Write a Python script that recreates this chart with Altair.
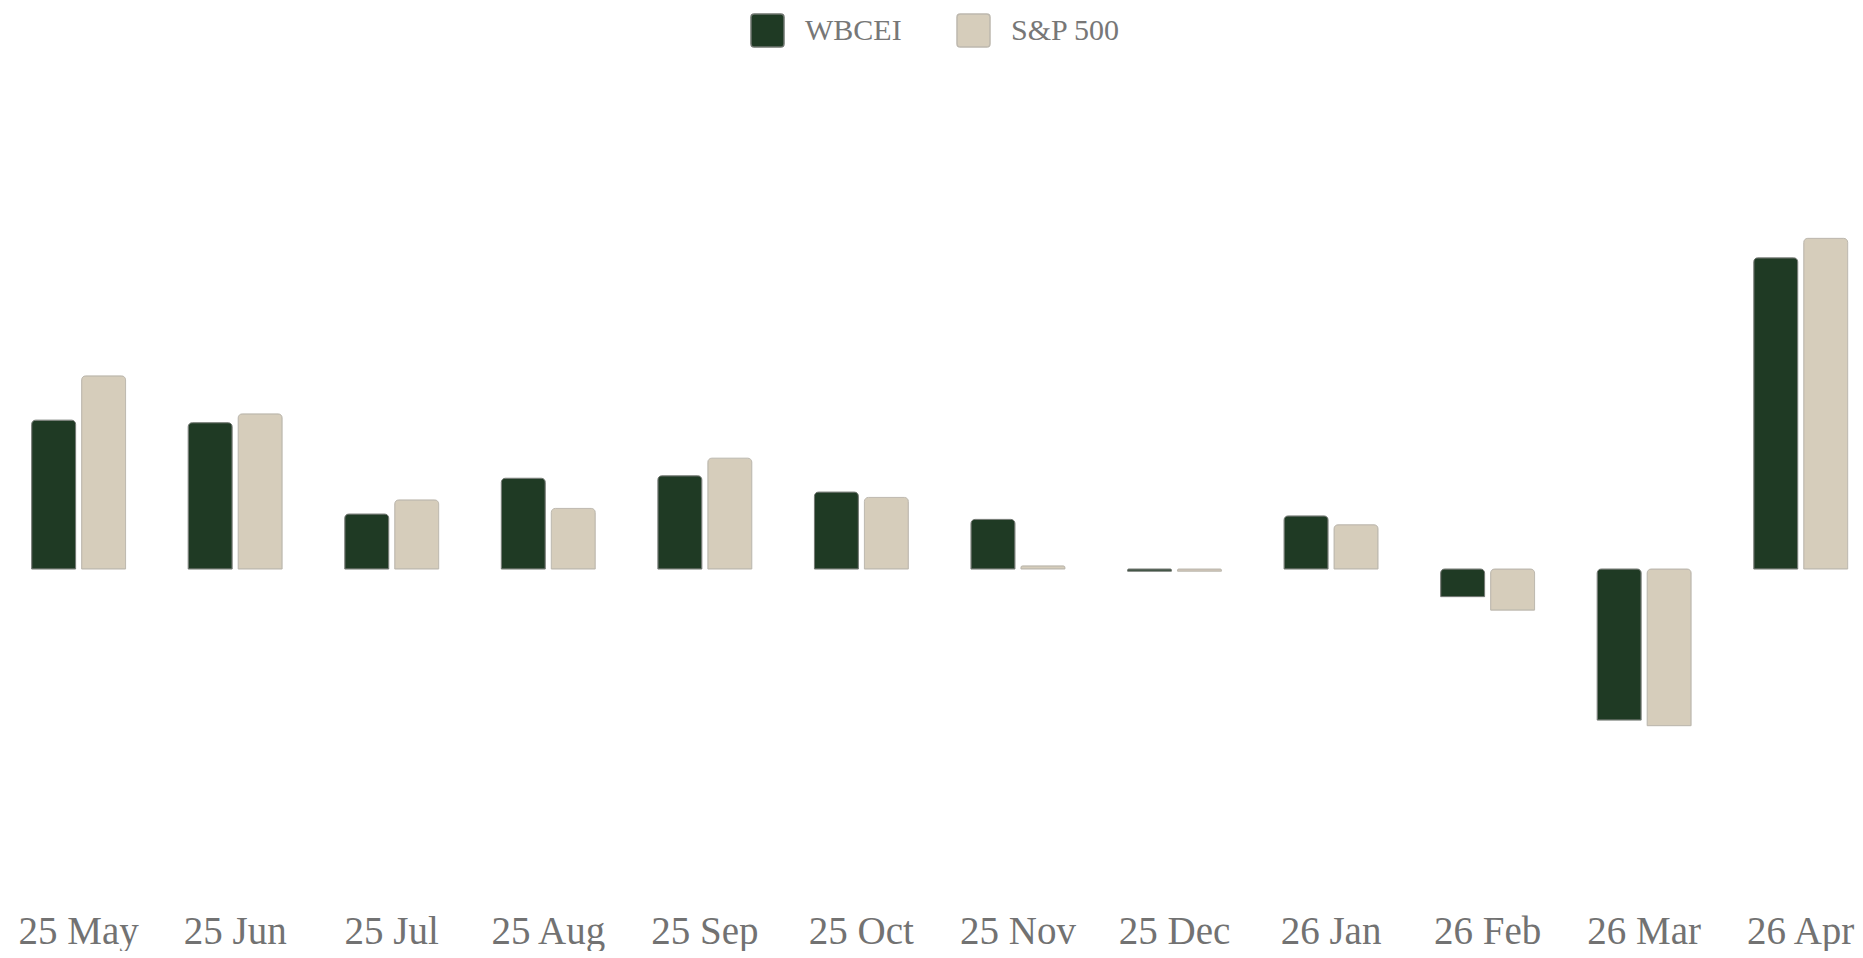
import altair as alt
import pandas as pd

months = ["25 May", "25 Jun", "25 Jul", "25 Aug", "25 Sep", "25 Oct",
          "25 Nov", "25 Dec", "26 Jan", "26 Feb", "26 Mar", "26 Apr"]
series = ["WBCEI", "S&P 500"]
wbcei = [4.74, 4.66, 1.75, 2.89, 2.97, 2.45, 1.58, -0.07, 1.69, -0.88, -4.81, 9.91]
sp500 = [6.15, 4.94, 2.20, 1.93, 3.53, 2.28, 0.10, -0.07, 1.41, -1.31, -4.99, 10.53]

fills = ["#1f3a24", "#d6cdbb"]
strokes = ["#6f756f", "#bdb8ae"]

rows = []
for m, a, b in zip(months, wbcei, sp500):
    rows.append({"month": m, "series": series[0], "value": a})
    rows.append({"month": m, "series": series[1], "value": b})
df = pd.DataFrame(rows)

rounded_square = ("M-0.8,-1H0.8Q1,-1 1,-0.8V0.8Q1,1 0.8,1H-0.8Q-1,1 -1,0.8"
                  "V-0.8Q-1,-1 -0.8,-1Z")

legend = alt.Legend(title=None, orient="none", legendX=750, legendY=13,
                    direction="horizontal", symbolType=rounded_square,
                    symbolSize=1089, labelFont="Liberation Serif",
                    labelFontSize=30, labelColor="#777777", labelOffset=20,
                    columnPadding=52)

chart = alt.Chart(df).mark_bar(
    cornerRadiusEnd=4, strokeWidth=1
).encode(
    x=alt.X("month:N", sort=months,
            scale=alt.Scale(paddingInner=0.4, paddingOuter=0.15, align=0.674),
            axis=alt.Axis(title=None, labelAngle=0, ticks=False, tickSize=0,
                          domain=False, grid=False, labelFont="Liberation Serif",
                          labelFontSize=39, labelColor="#727272",
                          labelBaseline="alphabetic", labelPadding=43)),
    xOffset=alt.XOffset("series:N", sort=series,
                        scale=alt.Scale(paddingInner=0.12, paddingOuter=0)),
    y=alt.Y("value:Q", axis=None,
            scale=alt.Scale(domain=[-10.54, 18.12], nice=False, zero=False)),
    color=alt.Color("series:N", sort=series,
                    scale=alt.Scale(domain=series, range=fills),
                    legend=legend),
    stroke=alt.Stroke("series:N", sort=series,
                      scale=alt.Scale(domain=series, range=strokes),
                      legend=legend),
).properties(
    width=1863, height=900, padding=0
).configure_view(stroke=None)

chart.save("out.html", embed_options={"renderer": "svg", "actions": False})
